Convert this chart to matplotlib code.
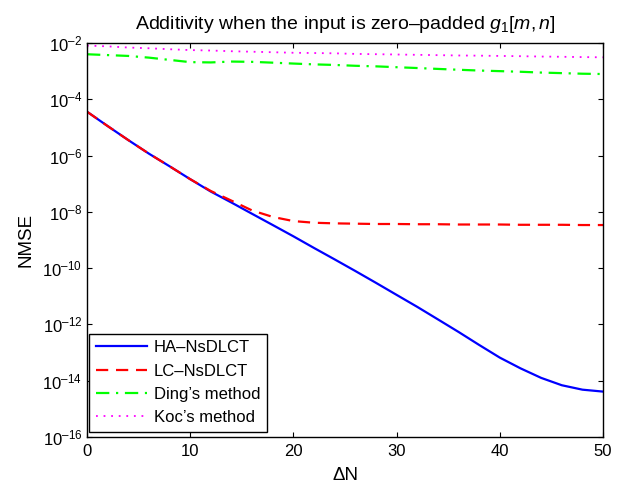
import matplotlib
matplotlib.use("Agg")
import matplotlib.pyplot as plt
from matplotlib.ticker import FixedLocator, NullLocator

plt.rcParams['font.family'] = ['Liberation Sans', 'DejaVu Sans']
plt.rcParams['mathtext.fontset'] = 'custom'
plt.rcParams['mathtext.rm'] = 'Liberation Sans'
plt.rcParams['mathtext.it'] = 'Liberation Sans:italic'
plt.rcParams['mathtext.default'] = 'regular'

delta_n = [0, 2, 4, 6, 8, 10, 12, 14, 16, 18, 20, 22, 24, 26, 28, 30,
           32, 34, 36, 38, 40, 42, 44, 46, 48, 50]

ha_nsdlct = [3.63e-5, 1.12e-5, 3.55e-6, 1.17e-6, 4.17e-7, 1.45e-7, 5.25e-8,
             2.14e-8, 8.5e-9, 3.4e-9, 1.35e-9, 5.2e-10, 2.04e-10, 7.9e-11,
             3.0e-11, 1.12e-11, 4.2e-12, 1.51e-12, 5.4e-13, 1.86e-13,
             6.6e-14, 2.75e-14, 1.26e-14, 6.9e-15, 4.8e-15, 4.1e-15]

lc_nsdlct = [3.63e-5, 1.12e-5, 3.55e-6, 1.17e-6, 4.17e-7, 1.45e-7, 5.5e-8,
             2.5e-8, 1.12e-8, 6.6e-9, 4.7e-9, 4.1e-9, 3.9e-9, 3.8e-9,
             3.7e-9, 3.7e-9, 3.63e-9, 3.63e-9, 3.55e-9, 3.55e-9, 3.55e-9,
             3.47e-9, 3.47e-9, 3.47e-9, 3.4e-9, 3.4e-9]

ding = [3.98e-3, 3.72e-3, 3.47e-3, 3.02e-3, 2.51e-3, 2.09e-3, 2.04e-3,
        2.19e-3, 2.14e-3, 2.0e-3, 1.86e-3, 1.74e-3, 1.66e-3, 1.55e-3,
        1.48e-3, 1.38e-3, 1.29e-3, 1.20e-3, 1.12e-3, 1.05e-3, 1.0e-3,
        9.5e-4, 8.9e-4, 8.5e-4, 8.1e-4, 7.9e-4]

koc = [8.1e-3, 7.6e-3, 6.9e-3, 6.5e-3, 6.0e-3, 5.6e-3, 5.4e-3, 5.1e-3,
       4.9e-3, 4.7e-3, 4.5e-3, 4.4e-3, 4.3e-3, 4.1e-3, 4.0e-3, 3.9e-3,
       3.8e-3, 3.7e-3, 3.6e-3, 3.55e-3, 3.47e-3, 3.4e-3, 3.3e-3, 3.24e-3,
       3.16e-3, 3.1e-3]

labels = ['HA\u2013NsDLCT', 'LC\u2013NsDLCT', "Ding\u2019s method", "Koc\u2019s method"]
x_ticks = [0, 10, 20, 30, 40, 50]
y_ticks = [1e-16, 1e-14, 1e-12, 1e-10, 1e-8, 1e-6, 1e-4, 1e-2]
y_tick_labels = ['$10^{\u2013%d}$' % e for e in [16, 14, 12, 10, 8, 6, 4, 2]]

fig = plt.figure(figsize=(6.23, 4.87), dpi=100)
ax = fig.add_axes([0.1396, 0.1027, 0.8284, 0.809])

ax.semilogy(delta_n, ha_nsdlct, color=(0, 0, 1), lw=1.6, ls='-', label=labels[0])
ax.semilogy(delta_n, lc_nsdlct, color=(1, 0, 0), lw=1.6, ls=(0, (5.5, 3.5)), label=labels[1])
ax.semilogy(delta_n, ding, color=(0, 1, 0), lw=1.6, ls=(0, (6, 3, 1, 3)), label=labels[2])
ax.semilogy(delta_n, koc, color=(1, 0, 1), lw=1.3, ls=(0, (1, 3.2)), label=labels[3])

ax.set_xlim(0, 50)
ax.set_ylim(1e-16, 1e-2)
ax.xaxis.set_major_locator(FixedLocator(x_ticks))
ax.yaxis.set_major_locator(FixedLocator(y_ticks))
ax.yaxis.set_minor_locator(NullLocator())
ax.set_yticklabels(y_tick_labels)
ax.tick_params(which='both', direction='in', top=True, right=True,
               length=3.5, width=0.8, labelsize=12)
ax.tick_params(axis='y', pad=3.5)
ax.tick_params(axis='x', pad=5)
for s in ax.spines.values():
    s.set_linewidth(1.0)

ax.set_xlabel('\u0394N', fontsize=13.5, labelpad=6)
ax.set_ylabel('NMSE', fontsize=13.5, labelpad=6)
ax.set_title('Additivity when the input is zero\u2013padded $\\mathit{g}_1[\\mathit{m},\\mathit{n}]$',
             fontsize=14, pad=10)

leg = ax.legend(loc='lower left', bbox_to_anchor=(0.004, 0.0127), fontsize=12,
                frameon=True, fancybox=False, edgecolor='black', borderaxespad=0,
                handlelength=3.1, labelspacing=0.5, borderpad=0.4, handletextpad=0.4)
leg.get_frame().set_linewidth(1.0)
leg.get_frame().set_alpha(1)

fig.savefig('out.png', dpi=100)
